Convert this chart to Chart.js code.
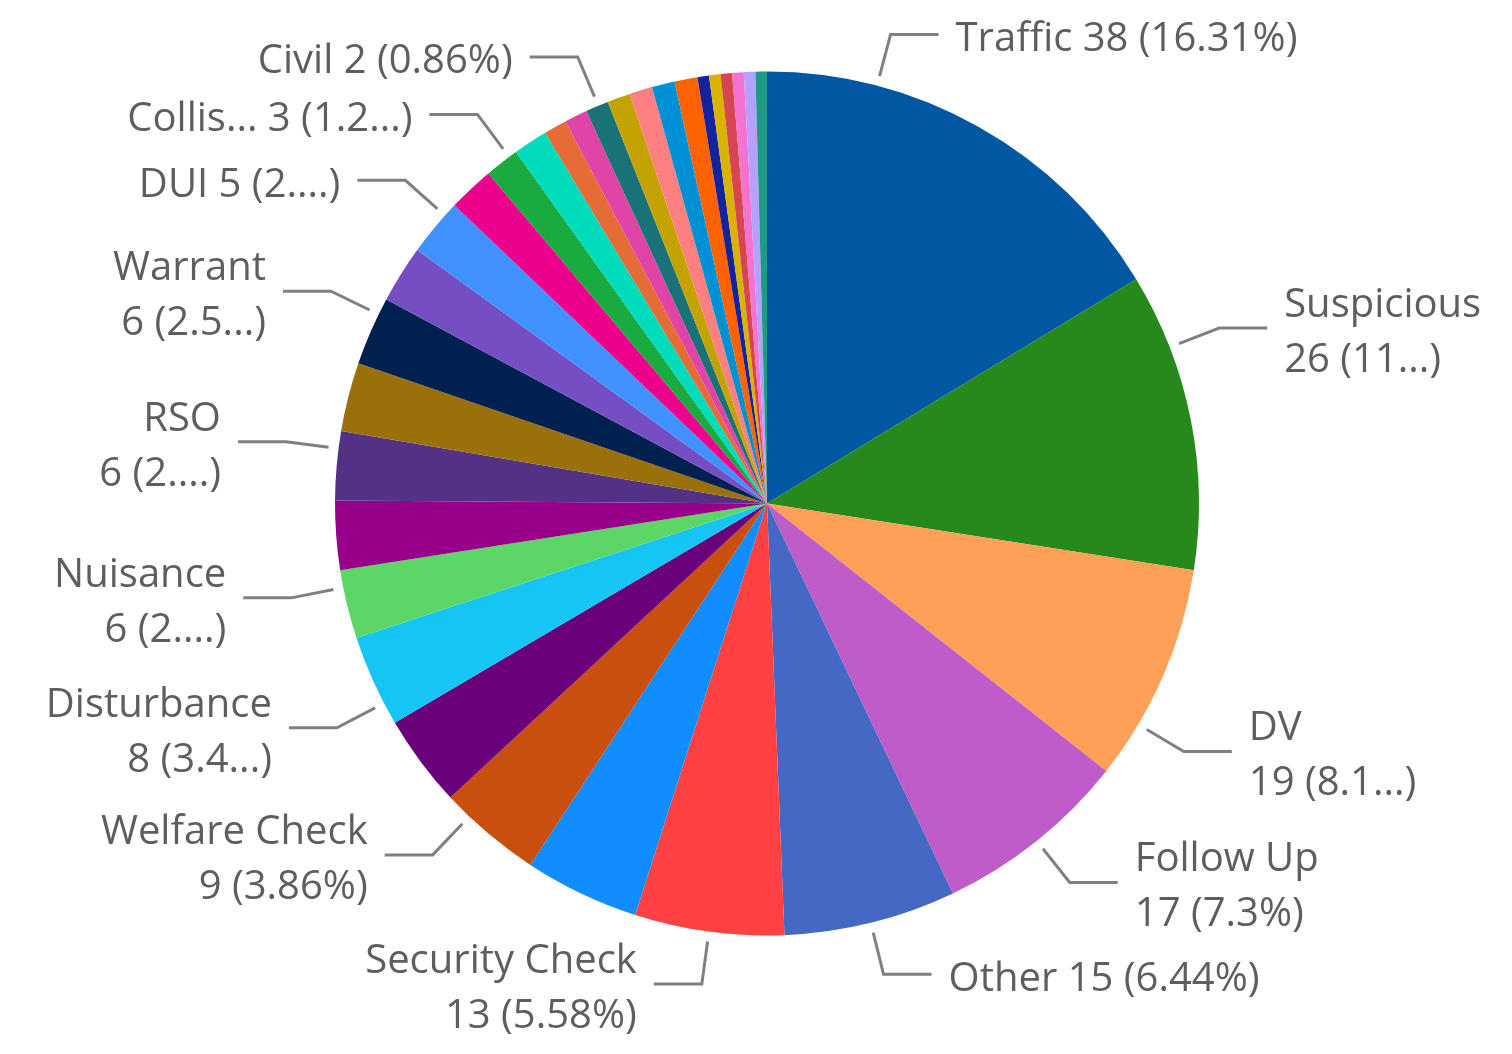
<!DOCTYPE html>
<html>
<head>
<meta charset="utf-8">
<script src="https://cdn.jsdelivr.net/npm/chart.js@4.4.1/dist/chart.umd.min.js"></script>
<style>
  html, body { margin: 0; padding: 0; background: #fff; }
</style>
</head>
<body>
<canvas id="pie" width="1512" height="1054"></canvas>
<script>
var categories = ['Traffic', 'Suspicious', 'DV', 'Follow Up', 'Other', 'Security Check',
    'Agency Assist', 'Welfare Check', 'Alarm', 'Disturbance', 'Nuisance', 'Patrol Check',
    'RSO', 'Theft', 'Warrant', 'Animal', 'DUI', 'Fraud', 'Collision', 'Harassment',
    'Assault', 'Burglary', 'Civil', 'Fire', 'Juvenile', 'Medical', 'Noise',
    'Parking', 'Runaway', 'Shots Fired', 'Trespass', 'Vandalism', 'Vehicle Tow'];
var counts = [38, 26, 19, 17, 15, 13, 10, 9, 8, 8, 6, 6, 6, 6, 6, 5, 5, 4, 3, 3,
    2, 2, 2, 2, 2, 2, 2, 1, 1, 1, 1, 1, 1];
var sliceColors = ['#0057A2', '#25891C', '#FFA058', '#BE5DC9', '#4668C5', '#FF4141',
    '#118DFF', '#C94F0F', '#6B007B', '#15C6F4', '#5BD667', '#99008A', '#533285',
    '#99700A', '#002050', '#744EC2', '#4092FF', '#EC008C', '#1AAB40', '#00DBBC',
    '#E66C37', '#E044A7', '#197278', '#C4A200', '#FF8080', '#0091D5', '#FF6300',
    '#12239E', '#D9B300', '#D64550', '#F472D0', '#B5A1FF', '#1F9A85'];

// data labels as they show (truncated like the report did), null = no label
var labelLines = [
    ['Traffic 38 (16.31%)'], ['Suspicious', '26 (11...)'], ['DV', '19 (8.1...)'],
    ['Follow Up', '17 (7.3%)'], ['Other 15 (6.44%)'], ['Security Check', '13 (5.58%)'],
    null, ['Welfare Check', '9 (3.86%)'], null, ['Disturbance', '8 (3.4...)'],
    ['Nuisance', '6 (2....)'], null, ['RSO', '6 (2....)'], null, ['Warrant', '6 (2.5...)'],
    null, ['DUI 5 (2....)'], null, ['Collis... 3 (1.2...)'], null,
    null, null, ['Civil 2 (0.86%)'], null, null, null, null,
    null, null, null, null, null, null];
// how far (degrees) each leader line sits off the slice middle
var labelShift = [-14.6, -10, 7.2, 0, 0, 0, 0, 3.4, 0, -3.2, 2.3, 0, 2.3, 0, 2.4,
    0, 2, 0, 1.2, 0, 0, 0, 0.2, 0, 0, 0, 0, 0, 0, 0, 0, 0, 0];

var callouts = {
    id: 'callouts',
    afterDatasetsDraw: function(chart) {
        var ctx = chart.ctx;
        var meta = chart.getDatasetMeta(0);
        ctx.save();
        ctx.font = '40px "Open Sans"';
        ctx.textBaseline = 'middle';
        meta.data.forEach(function(arc, i) {
            var lines = labelLines[i];
            if (!lines) return;
            var p = arc.getProps(['x', 'y', 'startAngle', 'endAngle', 'outerRadius'], true);
            var a = (p.startAngle + p.endAngle) / 2 + labelShift[i] * Math.PI / 180;
            var cos = Math.cos(a), sin = Math.sin(a);
            var x1 = p.x + (p.outerRadius + 10) * cos, y1 = p.y + (p.outerRadius + 10) * sin;
            var x2 = p.x + (p.outerRadius + 53) * cos, y2 = p.y + (p.outerRadius + 53) * sin;
            var side = cos >= 0 ? 1 : -1;
            var x3 = x2 + side * 48;

            ctx.strokeStyle = '#808080';
            ctx.lineWidth = 3;
            ctx.beginPath();
            ctx.moveTo(x1, y1);
            ctx.lineTo(x2, y2);
            ctx.lineTo(x3, y2);
            ctx.stroke();

            ctx.fillStyle = '#605E5C';
            ctx.textAlign = side > 0 ? 'left' : 'right';
            var lh = 55;
            var top = y2 + 5 - (lines.length - 1) * lh / 2;
            lines.forEach(function(t, k) {
                ctx.fillText(t, x3 + side * 17, top + k * lh);
            });
        });
        ctx.restore();
    }
};

new Chart(document.getElementById('pie').getContext('2d'), {
    type: 'pie',
    data: {
        labels: categories,
        datasets: [{
            data: counts,
            backgroundColor: sliceColors,
            borderWidth: 0
        }]
    },
    options: {
        responsive: false,
        animation: false,
        layout: {
            padding: { top: 71.5, bottom: 118.5, left: 335, right: 313 }
        },
        plugins: {
            legend: { display: false },
            tooltip: { enabled: false }
        }
    },
    plugins: [callouts]
});
</script>
</body>
</html>
